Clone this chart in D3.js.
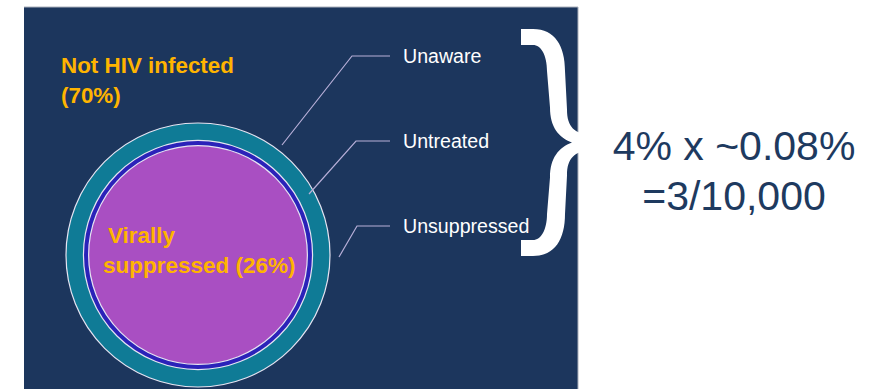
<!DOCTYPE html>
<html>
<head>
<meta charset="utf-8">
<script src="https://cdn.jsdelivr.net/npm/d3@7/dist/d3.min.js"></script>
<style>
  html, body { margin: 0; padding: 0; background: #fff; }
  svg { display: block; font-family: "Liberation Sans", Arial, sans-serif; }
</style>
</head>
<body>
<div id="chart"></div>
<script>
// DATA
const circleNames = ["HIV infected", "Diagnosed", "Virally suppressed"];
const circleShares = [30, 22.6, 20.6]; // share of population as drawn (area)
const circleColors = ["#0f7b96", "#2b22b9", "#a94fc2"];
const ringLabels = ["Unaware", "Untreated", "Unsuppressed"];
const outsideLabel = ["Not HIV infected", "(70%)"];
const insideLabel = ["Virally", "suppressed (26%)"];
const resultLines = ["4% x ~0.08%", "=3/10,000"];

const width = 879;
const height = 389;

const svg = d3.select("#chart")
  .append("svg")
  .attr("width", width)
  .attr("height", height)
  .attr("viewBox", `0 0 ${width} ${height}`);

// BACKGROUND PANEL
const panel = { x0: 24, x1: 578, y0: 7, y1: height };
svg.append("rect")
  .attr("x", panel.x0)
  .attr("y", panel.y0)
  .attr("width", panel.x1 - panel.x0)
  .attr("height", panel.y1 - panel.y0)
  .attr("fill", "#1c365d");
svg.append("polyline")
  .attr("points", `${panel.x0},${panel.y0} ${panel.x1},${panel.y0} ${panel.x1},${panel.y1}`)
  .attr("fill", "none")
  .attr("stroke", "#aab0bc")
  .attr("stroke-width", 1);

// CIRCLES
const cx = 198, cy = 255;
const rScale = d3.scaleSqrt().domain([0, 30]).range([0, 132]);

svg.append("g")
  .selectAll("circle")
  .data(circleShares)
  .join("circle")
  .attr("cx", cx)
  .attr("cy", cy)
  .attr("r", (d) => rScale(d))
  .attr("fill", (d, i) => circleColors[i])
  .attr("stroke", "#e6e4f2")
  .attr("stroke-width", 1.2);

// LEADER LINES + LABELS
const labelY = d3.scalePoint().domain(ringLabels).range([56, 226]);
const anchors = [
  [282, 145],
  [309, 194],
  [339, 257],
];
const elbowX = [352, 356, 357];
const lineEnd = 390;

const leaders = svg.append("g");
ringLabels.forEach((name, i) => {
  const y = labelY(name);
  leaders.append("polyline")
    .attr("points", `${anchors[i][0]},${anchors[i][1]} ${elbowX[i]},${y} ${lineEnd},${y}`)
    .attr("fill", "none")
    .attr("stroke", "#b7afd8")
    .attr("stroke-width", 1.2);
  leaders.append("text")
    .attr("x", 403)
    .attr("y", y + 6.5)
    .attr("fill", "#ffffff")
    .attr("font-size", 19.6)
    .text(name);
});

// ORANGE LABELS
svg.append("g")
  .selectAll("text")
  .data(outsideLabel)
  .join("text")
  .attr("x", 61)
  .attr("y", (d, i) => 73 + i * 30)
  .attr("fill", "#ffb400")
  .attr("font-weight", "bold")
  .attr("font-size", 22.4)
  .text((d) => d);

svg.append("g")
  .selectAll("text")
  .data(insideLabel)
  .join("text")
  .attr("x", (d, i) => (i === 0 ? 108 : 103))
  .attr("y", (d, i) => 243 + i * 30)
  .attr("fill", "#ffb400")
  .attr("font-weight", "bold")
  .attr("font-size", 22.5)
  .text((d) => d);

// BRACE
const brace = { x: 521, top: 29, bottom: 256, tip: 590, stem: 547, w: 18 };
const mid = (brace.top + brace.bottom) / 2;
const p = d3.path();
const so = brace.stem + brace.w; // outer stem x
p.moveTo(brace.x, brace.top);
p.lineTo(brace.x + 12, brace.top);
p.bezierCurveTo(so - 10, brace.top, so, brace.top + 17, so, brace.top + 42);
p.lineTo(so + 2, mid - 33);
p.bezierCurveTo(so + 2, mid - 15, so + 10, mid - 9, brace.tip, mid - 8);
p.lineTo(brace.tip, mid + 8);
p.bezierCurveTo(so + 10, mid + 9, so + 2, mid + 15, so + 2, mid + 33);
p.lineTo(so, brace.bottom - 42);
p.bezierCurveTo(so, brace.bottom - 17, so - 10, brace.bottom, brace.x + 12, brace.bottom);
p.lineTo(brace.x, brace.bottom);
p.lineTo(brace.x, brace.bottom - 16);
p.lineTo(brace.x + 12, brace.bottom - 16);
p.bezierCurveTo(brace.stem - 6, brace.bottom - 16, brace.stem, brace.bottom - 26, brace.stem, brace.bottom - 42);
p.lineTo(brace.stem + 3, mid + 35);
p.bezierCurveTo(brace.stem + 3, mid + 15, brace.stem + 12, mid + 5, brace.tip - 18, mid);
p.bezierCurveTo(brace.stem + 12, mid - 5, brace.stem + 3, mid - 15, brace.stem + 3, mid - 35);
p.lineTo(brace.stem, brace.top + 42);
p.bezierCurveTo(brace.stem, brace.top + 26, brace.stem - 6, brace.top + 16, brace.x + 12, brace.top + 16);
p.lineTo(brace.x, brace.top + 16);
p.closePath();

svg.append("path")
  .attr("d", p.toString())
  .attr("fill", "#ffffff");

// RESULT TEXT
svg.append("g")
  .selectAll("text")
  .data(resultLines)
  .join("text")
  .attr("x", 734)
  .attr("y", (d, i) => 160 + i * 50)
  .attr("text-anchor", "middle")
  .attr("fill", "#1e3a5f")
  .attr("font-size", 41)
  .text((d) => d);
</script>
</body>
</html>
